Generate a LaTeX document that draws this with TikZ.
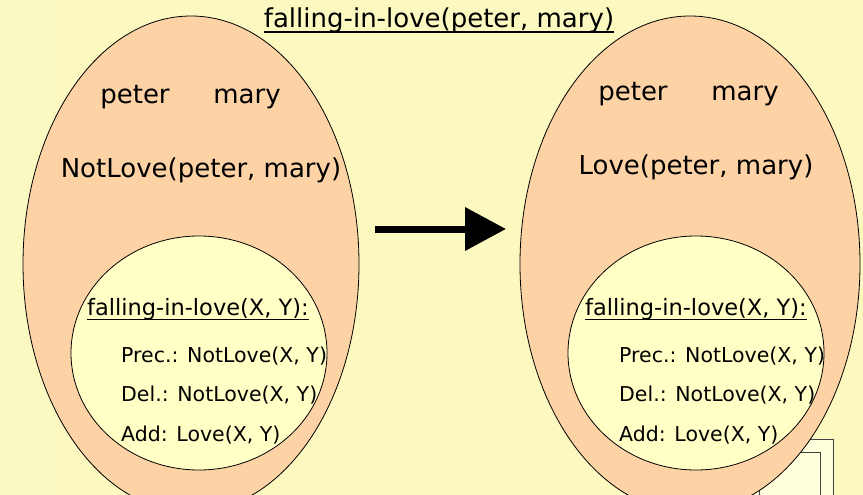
\documentclass[tikz,border=0pt]{standalone}
\usepackage{fontspec}
\setmainfont{DejaVu Sans}
\usetikzlibrary{shapes.geometric,arrows.meta}
\definecolor{bgside}{HTML}{F3F8D8}
\definecolor{bgmid}{HTML}{FBF9BF}
\definecolor{peach}{HTML}{FDD2A5}
\definecolor{cream}{HTML}{FFFFC6}
\definecolor{paper}{HTML}{FFFFDE}
\pgfdeclarehorizontalshading{slide}{100bp}{color(0bp)=(bgside); color(30bp)=(bgmid); color(75bp)=(bgmid); color(100bp)=(bgside)}
\newcommand{\ulin}[1]{\setbox0\hbox{#1}\rlap{\rule[-5pt]{\wd0}{1.5pt}}\box0}

\begin{document}
\begin{tikzpicture}[x=1pt, y=-1pt,
    world/.style={ellipse, draw, line width=0.8pt, fill=peach, inner sep=0pt},
    action/.style={ellipse, draw, line width=0.8pt, fill=cream, inner sep=0pt},
    big/.style={anchor=base, inner sep=0pt, font=\fontsize{26}{30}\selectfont},
    head/.style={anchor=base west, inner sep=0pt, font=\fontsize{22.5}{26}\selectfont},
    line/.style={anchor=base west, inner sep=0pt, font=\fontsize{20.5}{24}\selectfont},
    frame/.style={draw=black!75, line width=0.8pt, fill=paper}]
  \shade[shading=slide] (0,0) rectangle (863,495);
  \useasboundingbox (0,0) rectangle (863,495);
  % slide frames in the corner
  \draw[frame] (740,439) rectangle (833,510);
  \draw[frame] (748,452) rectangle (820,510);
  \draw[black!75, line width=0.8pt] (759,460) -- (759,510);
  % state before
  \node[world, minimum width=336pt, minimum height=496pt] (before) at (191,264) {};
  \node[action, minimum width=256pt, minimum height=234pt] (opleft) at (199,353) {};
  \node[big] (lpeter) at (135,103) {peter};
  \node[big] (lmary) at (247,103) {mary};
  \node[big] (notlove) at (201,177) {NotLove(peter, mary)};
  \node[head] (lhead) at (87,315) {\ulin{falling-in-love(X, Y):}};
  \node[line] (lprec) at (121,362) {Prec.: NotLove(X, Y)};
  \node[line] (ldel) at (121,401) {Del.: NotLove(X, Y)};
  \node[line] (ladd) at (121,441) {Add: Love(X, Y)};
  % state after
  \node[world, minimum width=340pt, minimum height=496pt] (after) at (690,264) {};
  \node[action, minimum width=256pt, minimum height=234pt] (opright) at (696,353) {};
  \node[big] (rpeter) at (633,100) {peter};
  \node[big] (rmary) at (745,100) {mary};
  \node[big] (love) at (696,174) {Love(peter, mary)};
  \node[head] (rhead) at (585,315) {\ulin{falling-in-love(X, Y):}};
  \node[line] (rprec) at (619,362) {Prec.: NotLove(X, Y)};
  \node[line] (rdel) at (619,401) {Del.: NotLove(X, Y)};
  \node[line] (radd) at (619,441) {Add: Love(X, Y)};
  % title and transition
  \node[big] (title) at (439,28) {\ulin{falling-in-love(peter, mary)}};
  \coordinate (tail) at (375,229);
  \coordinate (tip) at (506,229);
  \draw[line width=7pt, -{Triangle[length=41pt, width=42pt]}] (tail) -- (tip);
\end{tikzpicture}
\end{document}
